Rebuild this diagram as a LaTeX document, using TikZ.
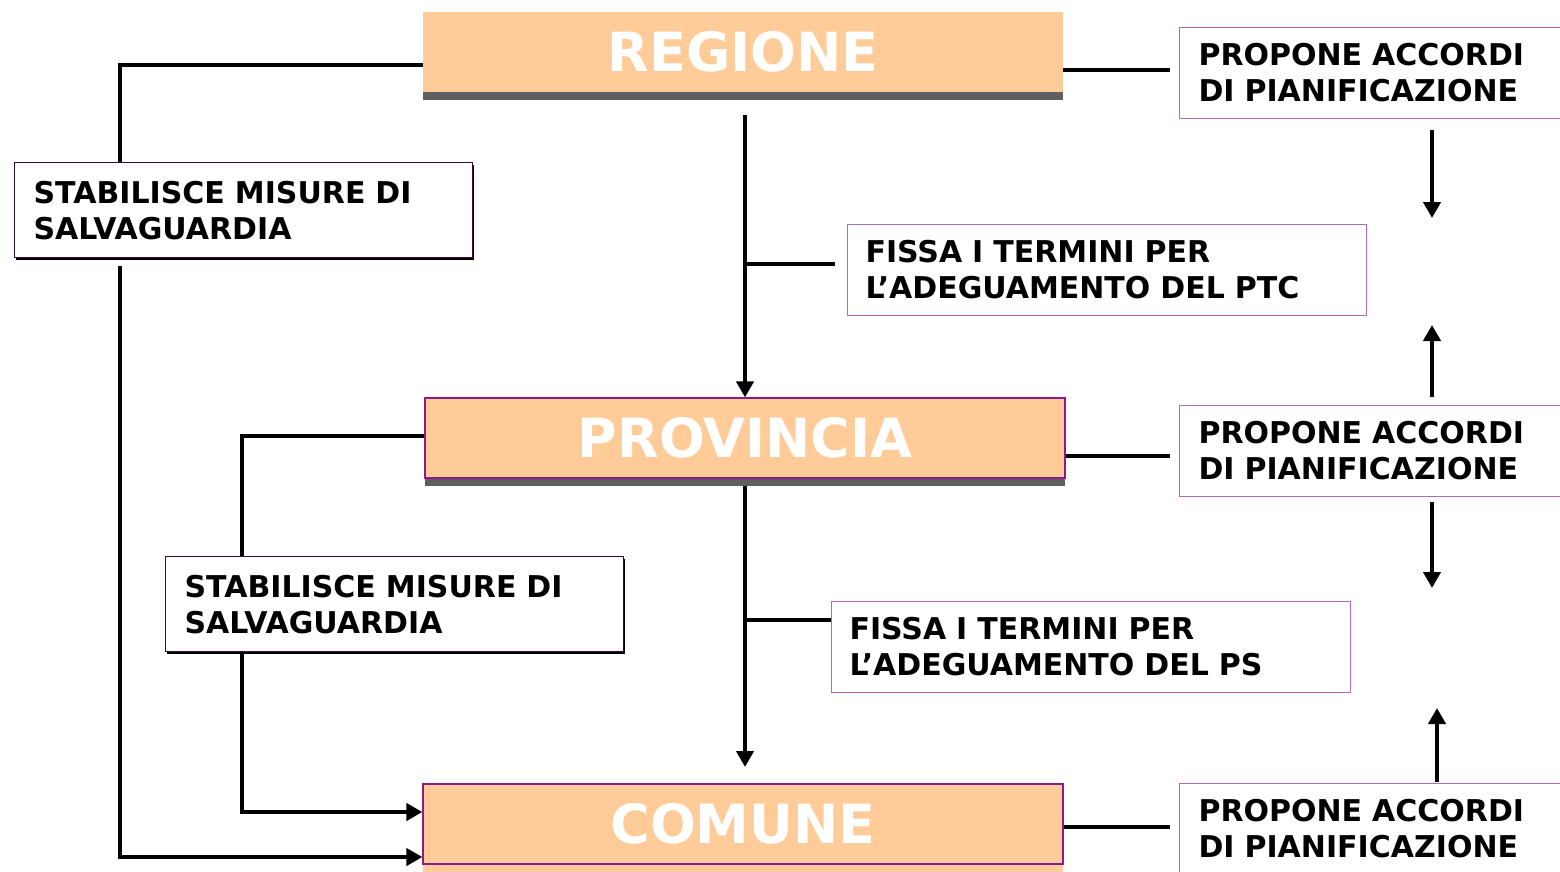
\documentclass[tikz,border=0pt]{standalone}
\usepackage{fontspec}
\setmainfont{DejaVu Sans}
\usetikzlibrary{arrows.meta,shadows}
\definecolor{peach}{HTML}{FFCC99}
\definecolor{shade}{HTML}{5F5F5F}
\definecolor{mainborder}{HTML}{8B1A8B}
\definecolor{lightborder}{HTML}{B36BB3}
\definecolor{darkborder}{HTML}{3A0A3A}
\tikzset{
  mainbox/.style={rectangle, fill=peach, minimum width=640pt, minimum height=80pt,
    inner sep=0pt, font=\fontsize{54}{54}\selectfont\bfseries, text=white},
  greyshadow/.style={drop shadow={shadow xshift=0pt, shadow yshift=-8pt, fill=shade, opacity=1}},
  peachshadow/.style={drop shadow={shadow xshift=0pt, shadow yshift=-8pt, fill=peach, opacity=1}},
  txtbox/.style={rectangle, fill=white, anchor=north west, inner ysep=0pt, align=left,
    font=\fontsize{30}{36}\selectfont\bfseries},
  rbox/.style={txtbox, draw=lightborder, line width=1pt, minimum height=91pt,
    inner xsep=19pt, text width=348pt},
  fbox/.style={txtbox, draw=lightborder, line width=1pt, minimum height=91pt,
    inner xsep=18pt, text width=483pt},
  sbox/.style={txtbox, draw=darkborder, line width=1.2pt, minimum height=95pt,
    inner xsep=19pt, text width=420pt,
    drop shadow={shadow xshift=1pt, shadow yshift=-2.5pt, fill=black, opacity=1}},
  conn/.style={line width=4.8pt, black},
  arr/.style={conn, -{Triangle[length=16pt,width=17pt]}},
}
\begin{document}
\begin{tikzpicture}[x=1pt,y=-1pt]
\useasboundingbox (0,0) rectangle (1560,871);

% main boxes
\node[mainbox, greyshadow] (reg) at (743,52) {REGIONE};
\node[mainbox, greyshadow, draw=mainborder, line width=1.2pt] (prov) at (745,438) {PROVINCIA};
\node[mainbox, peachshadow, draw=mainborder, line width=1.2pt] (com) at (743,824) {COMUNE};

% right boxes
\node[rbox] (rtop) at (1179,27) {PROPONE ACCORDI\\DI PIANIFICAZIONE};
\node[rbox] (rmid) at (1179,405) {PROPONE ACCORDI\\DI PIANIFICAZIONE};
\node[rbox] (rbot) at (1179,783) {PROPONE ACCORDI\\DI PIANIFICAZIONE};

% fissa boxes
\node[fbox] (fis1) at (847,224) {FISSA I TERMINI PER\\L’ADEGUAMENTO DEL PTC};
\node[fbox] (fis2) at (831,601) {FISSA I TERMINI PER\\L’ADEGUAMENTO DEL PS};

% stabilisce boxes
\node[sbox] (stab1) at (14,162) {STABILISCE MISURE DI\\SALVAGUARDIA};
\node[sbox] (stab2) at (165,556) {STABILISCE MISURE DI\\SALVAGUARDIA};

% helper coordinates
\coordinate (lx1) at (120,0);
\coordinate (lx2) at (242,0);
\coordinate (ly1) at (0,65);
\coordinate (ly2) at (0,857);
\coordinate (ly3) at (0,436);
\coordinate (ly4) at (0,812);
\coordinate (c1) at (745,115);
\coordinate (c2) at (745,486);
\coordinate (c3) at (745,767);
\coordinate (b1) at (745,264);
\coordinate (b2) at (745,620);
\coordinate (ry1) at (0,70);
\coordinate (ry2) at (0,456);
\coordinate (ry3) at (0,827);
\coordinate (a1s) at (1432,130);
\coordinate (a1e) at (1432,218);
\coordinate (a2s) at (1432,397);
\coordinate (a2e) at (1432,325);
\coordinate (a3s) at (1432,502);
\coordinate (a3e) at (1432,588);
\coordinate (a4s) at (1437,782);
\coordinate (a4e) at (1437,708);

% left connectors
\draw[conn] (reg.west |- ly1) -| (stab1.north -| lx1);
\draw[arr] ([yshift=-8pt]stab1.south -| lx1) |- (com.west |- ly2);
\draw[conn] (prov.west |- ly3) -| (stab2.north -| lx2);
\draw[arr] ([yshift=-2pt]stab2.south -| lx2) |- (com.west |- ly4);

% centre connectors
\draw[arr] (c1) -- (prov.north);
\draw[conn, shorten >=12pt] (b1) -- (b1 -| fis1.west);
\draw[arr] (c2) -- (c3);
\draw[conn] (b2) -- (b2 -| fis2.west);

% right connectors
\draw[conn, shorten >=9pt] (reg.east |- ry1) -- (rtop.west |- ry1);
\draw[conn, shorten >=9pt] (prov.east |- ry2) -- (rmid.west |- ry2);
\draw[conn, shorten >=9pt] (com.east |- ry3) -- (rbot.west |- ry3);

% right vertical arrows
\draw[arr] (a1s) -- (a1e);
\draw[arr] (a2s) -- (a2e);
\draw[arr] (a3s) -- (a3e);
\draw[arr] (a4s) -- (a4e);
\end{tikzpicture}
\end{document}
